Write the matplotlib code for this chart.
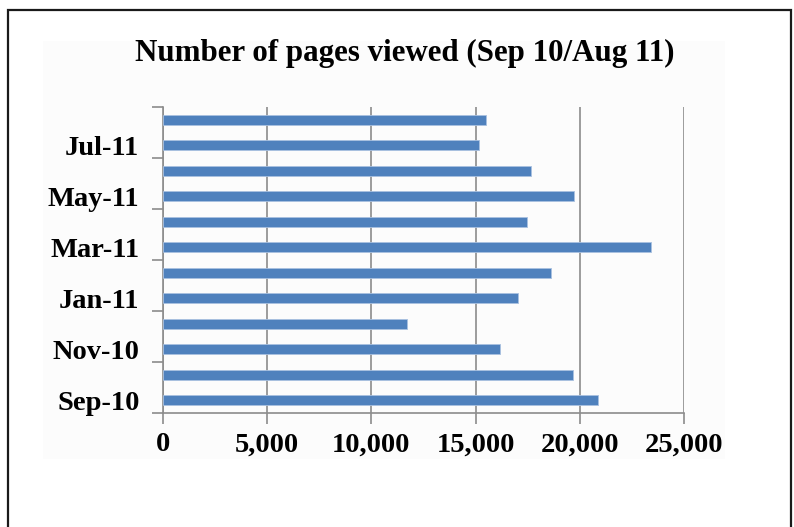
import matplotlib
matplotlib.use("Agg")
import matplotlib.pyplot as plt
from matplotlib.patches import Rectangle
from matplotlib.ticker import FuncFormatter, FixedLocator

# ====== Data (Sep 10 -> Aug 11) ======
months = ["Sep-10", "Oct-10", "Nov-10", "Dec-10", "Jan-11", "Feb-11",
          "Mar-11", "Apr-11", "May-11", "Jun-11", "Jul-11", "Aug-11"]
pages_viewed = [20870, 19690, 16170, 11690, 17050, 18600,
                23430, 17480, 19740, 17660, 15150, 15500]
x_ticks = [0, 5000, 10000, 15000, 20000, 25000]

W, H = 794, 527
fig = plt.figure(figsize=(W / 100, H / 100), dpi=100)
fig.patch.set_facecolor("white")

# outer frame (bottom edge runs off the picture) and faint chart area
fig.add_artist(Rectangle((8 / W, -0.05), 783 / W, 1.05 - 10 / H,
                         transform=fig.transFigure, fill=False,
                         edgecolor="#1a1a1a", linewidth=1.6))
fig.add_artist(Rectangle((43 / W, 1 - 459 / H), 682 / W, 418 / H,
                         transform=fig.transFigure, facecolor="#fcfcfc",
                         edgecolor="none", zorder=0))

ax = fig.add_axes([163 / W, 1 - 413 / H, 521 / W, 306 / H])
ax.set_facecolor("none")

pos = list(range(len(months)))
ax.barh(pos, pages_viewed, height=0.4, color="#4f81bd",
        edgecolor="#a9c1e0", linewidth=0.6, zorder=3)

ax.set_xlim(0, 25000)
ax.set_ylim(-0.5, len(months) - 0.5)

# x axis
ax.xaxis.set_major_locator(FixedLocator(x_ticks))
ax.xaxis.set_major_formatter(FuncFormatter(lambda v, p: f"{int(v):,}"))
ax.grid(axis="x", color="#8c8c8c", linewidth=1.2, zorder=1)
ax.tick_params(axis="x", direction="out", length=8, width=1.2,
               color="#8c8c8c", pad=6)

# y axis: labels every other month, tick marks between categories
ax.set_yticks(pos[::2])
ax.set_yticklabels(months[::2])
ax.set_yticks([p - 0.5 for p in pos[::2]] + [len(months) - 0.5], minor=True)
ax.tick_params(axis="y", which="major", length=0, pad=17)
ax.tick_params(axis="y", which="minor", direction="out", length=8,
               width=1.2, color="#8c8c8c")

for lab in ax.get_xticklabels() + ax.get_yticklabels():
    lab.set_family("Liberation Serif")
    lab.set_fontweight("bold")
    lab.set_fontsize(20.5)

for side in ["top", "right"]:
    ax.spines[side].set_visible(False)
for side in ["left", "bottom"]:
    ax.spines[side].set_color("#8c8c8c")
    ax.spines[side].set_linewidth(1.2)

fig.text(405 / W, 1 - 53 / H, "Number of pages viewed (Sep 10/Aug 11)",
         ha="center", va="center", family="Liberation Serif",
         fontweight="bold", fontsize=22.3)

fig.savefig("out.png", dpi=100)
